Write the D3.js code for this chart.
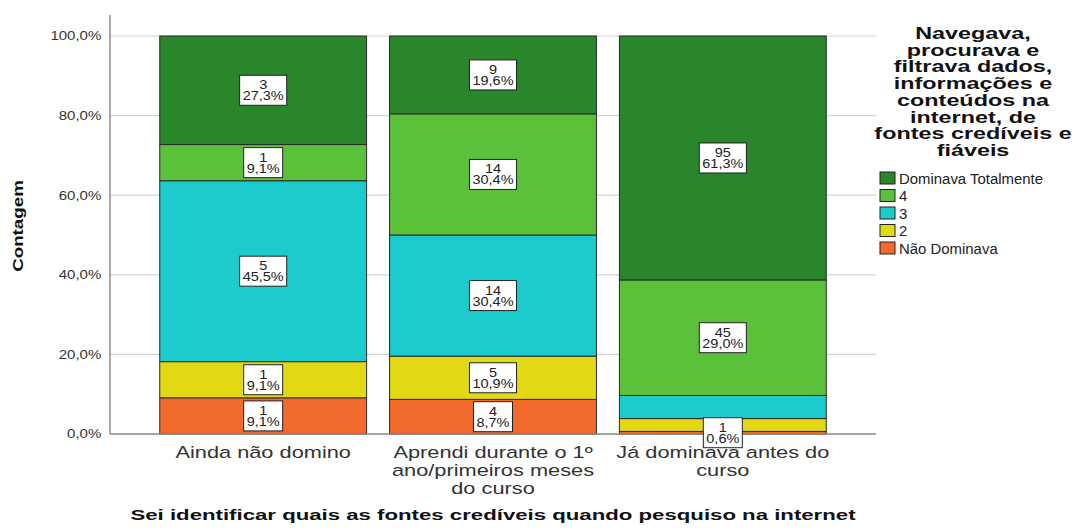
<!DOCTYPE html>
<html><head><meta charset="utf-8">
<script src="https://cdn.jsdelivr.net/npm/d3@7"></script>
<style>body{margin:0;background:#fff}svg{display:block}text{font-family:"Liberation Sans",Arial,sans-serif}</style>
</head><body><svg id="c" width="1075" height="528"></svg>
<script>
const categories = [["Ainda não domino"], ["Aprendi durante o 1º", "ano/primeiros meses", "do curso"], ["Já dominava antes do", "curso"]];
const catKeys = ["Ainda não domino", "Aprendi durante o 1º ano/primeiros meses do curso", "Já dominava antes do curso"];
const seriesNames = ["Não Dominava", "2", "3", "4", "Dominava Totalmente"];
const seriesColors = ["#f26a2c", "#e2d814", "#1ccccc", "#5cc13a", "#2a862a"];
const naoDominava = [1, 4, 1];
const s2 = [1, 5, 5];
const s3 = [5, 14, 9];
const s4 = [1, 14, 45];
const dominavaTot = [3, 9, 95];
const showLabel = [[true,true,true,true,true],[true,true,true,true,true],[true,false,false,true,true]];
const yTicks = [0, 0.2, 0.4, 0.6, 0.8, 1.0];
const legendTitle = ["Navegava,", "procurava e", "filtrava dados,", "informações e", "conteúdos na", "internet, de", "fontes credíveis e", "fiáveis"];
const xTitle = "Sei identificar quais as fontes credíveis quando pesquiso na internet";
const yTitle = "Contagem";

const svg = d3.select("#c");
const pL = 110, pR = 876, pT = 36, pB = 434;
const x = d3.scaleBand().domain(catKeys).range([pL, pR]).paddingInner(0.1).paddingOuter(0.2165);
const y = d3.scaleLinear().domain([0, 1]).range([pB, pT]);
const fmt = v => (v*100).toFixed(1).replace(".", ",") + "%";

function stext(parent, tx, ty, str, size, sx, anchor, bold, fill) {
  return parent.append("text")
    .attr("transform", `translate(${tx},${ty}) scale(${sx},1)`)
    .attr("font-size", size).attr("text-anchor", anchor || "start")
    .attr("font-weight", bold ? "bold" : "normal").attr("fill", fill || "#222").text(str);
}

// grid
svg.append("g").selectAll("line").data(yTicks).join("line")
  .attr("x1", pL).attr("x2", pR).attr("y1", d => y(d)).attr("y2", d => y(d))
  .attr("stroke", "#d4d4d4").attr("stroke-width", 1.2);
// y axis line
svg.append("line").attr("x1", pL).attr("x2", pL).attr("y1", 15).attr("y2", pB)
  .attr("stroke", "#8c8c8c").attr("stroke-width", 1.5);
const yAxis = d3.axisLeft(y).tickValues(yTicks).tickFormat(fmt).tickSize(0).tickPadding(7);
const ya = svg.append("g").attr("transform", `translate(${pL},0)`).call(yAxis);
ya.select(".domain").remove();
ya.selectAll("text").attr("font-size", 12).attr("fill", "#333")
  .attr("font-family", "Liberation Sans, Arial, sans-serif").attr("transform", "scale(1.25,1)");

// bars
const data = [naoDominava, s2, s3, s4, dominavaTot];
const stacks = catKeys.map((k, i) => {
  const vals = data.map(s => s[i]);
  const tot = d3.sum(vals);
  let acc = 0;
  return vals.map((v, j) => { const o = {cat: k, ci: i, j, v, y0: acc/tot, y1: (acc+v)/tot, p: v/tot}; acc += v; return o; });
});
const segs = stacks.flat();
svg.append("g").selectAll("rect").data(segs).join("rect")
  .attr("x", d => x(d.cat)).attr("width", x.bandwidth())
  .attr("y", d => y(d.y1)).attr("height", d => y(d.y0) - y(d.y1))
  .attr("fill", d => seriesColors[d.j]).attr("stroke", "#2a2a2a").attr("stroke-width", 1);

// x axis line
svg.append("line").attr("x1", pL).attr("x2", pR).attr("y1", pB).attr("y2", pB)
  .attr("stroke", "#8c8c8c").attr("stroke-width", 1.5);

// labels
const lab = svg.append("g");
const lsx = 1.16;
segs.filter(d => showLabel[d.ci][d.j]).forEach(d => {
  const cx = x(d.cat) + x.bandwidth()/2, cy = y((d.y0 + d.y1)/2);
  const g = lab.append("g");
  const a = stext(g, cx, cy - 1, String(d.v), 12.5, lsx, "middle", false, "#222");
  const b = stext(g, cx, cy + 10, fmt(d.p), 12.5, lsx, "middle", false, "#222");
  const w = Math.max(a.node().getComputedTextLength(), b.node().getComputedTextLength()) * lsx + 6;
  g.insert("rect", "text").attr("x", cx - w/2).attr("y", cy - 15).attr("width", w).attr("height", 30)
    .attr("fill", "#fff").attr("stroke", "#222").attr("stroke-width", 1);
});

// category labels
categories.forEach((lines, i) => {
  const cx = x(catKeys[i]) + x.bandwidth()/2;
  lines.forEach((l, k) => stext(svg, cx, 458 + k*18, l, 16.5, 1.32, "middle", false, "#333"));
});
stext(svg, (pL+pR)/2, 520, xTitle, 15, 1.48, "middle", true, "#111");
svg.append("text").attr("transform", "translate(23,226) rotate(-90) scale(1.25,1)").attr("text-anchor", "middle")
  .attr("font-size", 15).attr("font-weight", "bold").attr("fill", "#111").text(yTitle);

// legend
legendTitle.forEach((l, k) => stext(svg, 973, 39 + k*16.7, l, 16, 1.46, "middle", true, "#111"));
const legOrder = seriesNames.map((n, j) => j).reverse();
legOrder.forEach((j, k) => {
  const yy = 172 + k*17.5;
  svg.append("rect").attr("x", 880).attr("y", yy).attr("width", 15).attr("height", 12)
    .attr("fill", seriesColors[j]).attr("stroke", "#222").attr("stroke-width", 1);
  stext(svg, 899, yy + 11.5, seriesNames[j], 14.5, 1.03, "start", false, "#222");
});
</script></body></html>
